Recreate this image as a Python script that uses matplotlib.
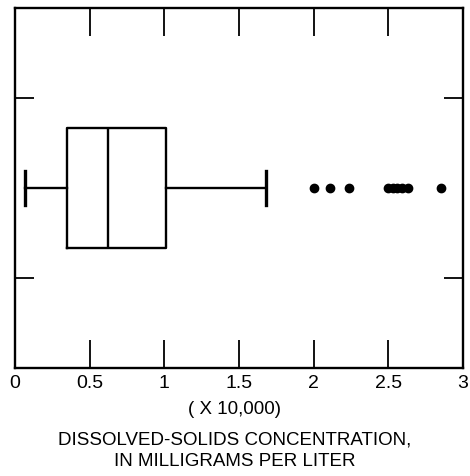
import matplotlib
matplotlib.use("Agg")
import matplotlib.pyplot as plt

plt.rcParams["font.family"] = ["Liberation Sans", "DejaVu Sans"]

# concentracion de solidos disueltos (x 10,000 mg/L)
minimo = 0.067
cuartil_1 = 0.35
mediana = 0.625
cuartil_3 = 1.01
maximo = 1.68
atipicos = [2.00, 2.11, 2.24, 2.50, 2.53, 2.56, 2.59, 2.63, 2.85]

ticks_x = [0, 0.5, 1, 1.5, 2, 2.5, 3]
etiquetas_x = ["0", "0.5", "1", "1.5", "2", "2.5", "3"]

fig = plt.figure(figsize=(4.70, 4.76), dpi=100)
ax = fig.add_axes([0.032, 0.227, 0.953, 0.756])

estadisticas = [{
    "whislo": minimo, "q1": cuartil_1, "med": mediana,
    "q3": cuartil_3, "whishi": maximo, "fliers": atipicos,
}]

estilo = dict(color="black", linewidth=1.7)
ax.bxp(estadisticas, positions=[2], vert=False, widths=1.33,
       boxprops=estilo, medianprops=estilo, whiskerprops=estilo,
       capprops=dict(color="black", linewidth=2.4), capwidths=0.37,
       flierprops=dict(marker="o", markersize=6, markerfacecolor="black",
                       markeredgecolor="black", linestyle="none"))

ax.set_xlim(0, 3)
ax.set_ylim(0, 4)
ax.set_xticks(ticks_x)
ax.set_xticklabels(etiquetas_x, fontsize=14)
ax.set_yticks([1, 3])
ax.set_yticklabels([])

# marcas hacia adentro, arriba y abajo
ax.tick_params(axis="x", direction="in", length=20, width=1.3,
               top=True, bottom=True, pad=5, colors="black")
ax.tick_params(axis="y", direction="in", length=14, width=1.3,
               left=True, right=True)
for lado in ax.spines.values():
    lado.set_linewidth(1.7)

# titulo del eje en tres renglones
fig.text(0.5, 1 - 410 / 476, "( X 10,000)", ha="center", va="center", fontsize=13.5)
fig.text(0.5, 1 - 440 / 476, "DISSOLVED-SOLIDS CONCENTRATION,",
         ha="center", va="center", fontsize=13.5)
fig.text(0.5, 1 - 462 / 476, "IN MILLIGRAMS PER LITER",
         ha="center", va="center", fontsize=13.5)

plt.savefig("out.png", dpi=100)
plt.close()
